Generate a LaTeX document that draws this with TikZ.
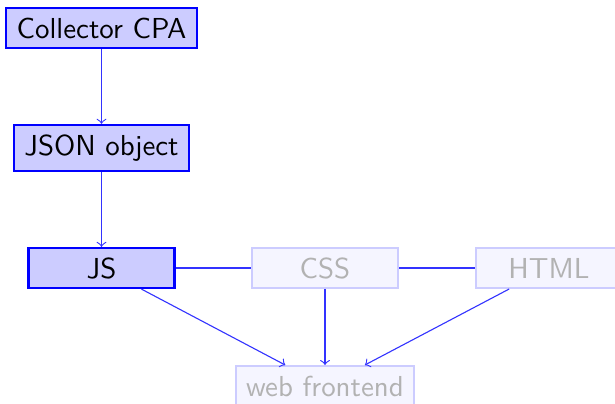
\documentclass[tikz,border=0pt]{standalone}
\begin{document}
\begin{tikzpicture}[x=0.36pt,y=-0.36pt,
  font=\sffamily\fontsize{10.4}{12}\selectfont,
  mainbox/.style={draw=blue, line width=0.8pt, fill=blue!20, text=black, inner sep=0pt, minimum height=14.4pt},
  lightbox/.style={draw=blue!20, line width=0.7pt, fill=blue!4, text=black!30, inner sep=0pt, minimum height=14.4pt},
  conn/.style={draw=blue!80, line width=0.4pt},
  arr/.style={conn, ->}]
\useasboundingbox (0,0) rectangle (615,403);
\node[mainbox, minimum width=68.8pt] (cpa) at (101.5,28) {Collector CPA};
\node[mainbox, minimum width=63pt, minimum height=16.6pt] (json) at (101.5,148) {JSON object};
\node[mainbox, minimum width=52.6pt] (js) at (101.5,268) {JS};
\node[lightbox, minimum width=52.6pt] (css) at (325,268) {CSS};
\node[lightbox, minimum width=52.6pt] (html) at (549,268) {HTML};
\node[lightbox, minimum width=64pt] (web) at (325,386) {web frontend};
\draw[arr] (cpa) -- (json);
\draw[arr] (json) -- (js);
\draw[conn] (js) -- (css);
\draw[conn] (css) -- (html);
\draw[arr] (js) -- (web);
\draw[arr] (css) -- (web);
\draw[arr] (html) -- (web);
\end{tikzpicture}
\end{document}
